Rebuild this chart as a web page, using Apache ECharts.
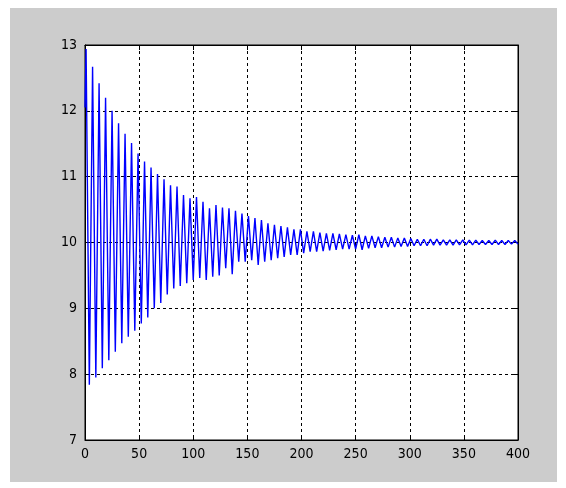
<!DOCTYPE html>
<html>
<head>
<meta charset="utf-8">
<script src="https://cdn.jsdelivr.net/npm/echarts@6/dist/echarts.min.js"></script>
<style>
html,body{margin:0;padding:0;background:#ffffff;}
#chart{width:566px;height:488px;}
</style>
</head>
<body>
<div id="chart"></div>
<script>
// Tick labels
const xTicks = [0, 50, 100, 150, 200, 250, 300, 350, 400];
const yTicks = [7, 8, 9, 10, 11, 12, 13];

// Starting sample
const startPoint = [0, 12.05];

// Peaks (local maxima)
const peakX = [1,7,13,19,25,31,37,43,49,55,61,67,73,79,85,91,97,103,109,115,121,127,133,139,145,151,157,163,169,175,181,187,193,199,205,211,217,223,229,235,241,247,253,259,265,271,277,283,289,295,301,307,313,319,325,331,337,343,349,355,361,367,373,379,385,391,397];
const peakY = [12.94,12.67,12.42,12.20,12.00,11.81,11.65,11.51,11.35,11.23,11.14,11.04,10.96,10.87,10.85,10.72,10.67,10.69,10.62,10.52,10.57,10.53,10.52,10.48,10.44,10.40,10.37,10.34,10.29,10.27,10.25,10.23,10.20,10.20,10.17,10.17,10.15,10.14,10.14,10.13,10.12,10.11,10.12,10.10,10.10,10.09,10.08,10.08,10.07,10.07,10.06,10.05,10.05,10.05,10.05,10.04,10.04,10.04,10.04,10.035,10.035,10.03,10.03,10.035,10.03,10.03,10.03];

// Troughs (local minima)
const troughX = [4,10,16,22,28,34,40,46,52,58,64,70,76,82,88,94,100,106,112,118,124,130,136,142,148,154,160,166,172,178,184,190,196,202,208,214,220,226,232,238,244,250,256,262,268,274,280,286,292,298,304,310,316,322,328,334,340,346,352,358,364,370,376,382,388,394,400];
const troughY = [7.84,7.95,8.09,8.21,8.34,8.47,8.57,8.66,8.77,8.86,9.00,9.08,9.21,9.30,9.34,9.38,9.43,9.46,9.43,9.48,9.50,9.61,9.52,9.71,9.71,9.73,9.66,9.71,9.73,9.76,9.78,9.81,9.81,9.84,9.86,9.86,9.87,9.88,9.89,9.90,9.90,9.90,9.89,9.91,9.92,9.92,9.93,9.93,9.94,9.94,9.95,9.95,9.95,9.96,9.96,9.96,9.96,9.965,9.965,9.965,9.97,9.97,9.97,9.97,9.97,9.975,9.975];

// Build the signal polyline from the extrema (ordered by time)
const signal = [startPoint];
for (let i = 0; i < peakX.length; i++) {
  signal.push([peakX[i], peakY[i]]);
  signal.push([troughX[i], troughY[i]]);
}

const labelFont = {
  color: '#000000',
  fontFamily: "'Liberation Sans Narrow','DejaVu Sans Condensed','Liberation Sans',sans-serif",
  fontSize: 14
};
const gridLine = { show: true, lineStyle: { color: '#000000', type: [3, 3], width: 1 } };
const axisLineStyle = { show: true, onZero: false, lineStyle: { color: '#000000', width: 1 } };
const tick = { show: true, inside: true, length: 5, lineStyle: { color: '#000000' } };

const chart = echarts.init(document.getElementById('chart'), null, { renderer: 'canvas' });
chart.setOption({
  animation: false,
  backgroundColor: 'transparent',
  graphic: [{
    type: 'rect',
    z: -100,
    shape: { x: 10, y: 8, width: 547, height: 474 },
    style: { fill: '#cccccc' },
    silent: true
  }],
  grid: {
    left: 85, right: 48, top: 45, bottom: 48,
    show: true, backgroundColor: '#ffffff', borderColor: '#000000', borderWidth: 1
  },
  xAxis: [{
    type: 'value', min: xTicks[0], max: xTicks[xTicks.length - 1], interval: 50,
    position: 'bottom',
    axisLine: axisLineStyle, axisTick: tick, splitLine: gridLine,
    axisLabel: Object.assign({ margin: 7 }, labelFont)
  }, {
    type: 'value', min: xTicks[0], max: xTicks[xTicks.length - 1], interval: 50,
    position: 'top',
    axisLine: axisLineStyle, axisTick: tick, splitLine: { show: false },
    axisLabel: { show: false }
  }],
  yAxis: [{
    type: 'value', min: yTicks[0], max: yTicks[yTicks.length - 1], interval: 1,
    position: 'left',
    axisLine: axisLineStyle, axisTick: tick, splitLine: gridLine,
    axisLabel: Object.assign({ margin: 8 }, labelFont)
  }, {
    type: 'value', min: yTicks[0], max: yTicks[yTicks.length - 1], interval: 1,
    position: 'right',
    axisLine: axisLineStyle, axisTick: tick, splitLine: { show: false },
    axisLabel: { show: false }
  }],
  series: [{
    type: 'line',
    data: signal,
    showSymbol: false,
    symbol: 'none',
    lineStyle: { color: '#0000ff', width: 1.4 },
    z: 5
  }]
});
</script>
</body>
</html>
